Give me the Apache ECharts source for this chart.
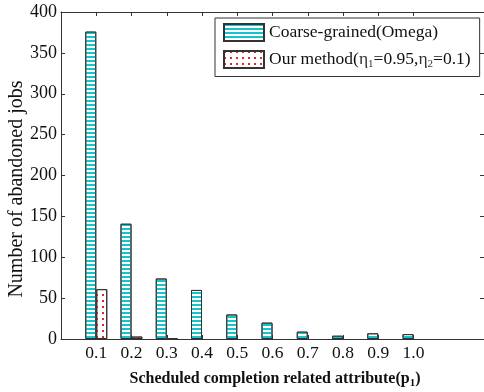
<!DOCTYPE html>
<html>
<head>
<meta charset="utf-8">
<script src="https://cdn.jsdelivr.net/npm/echarts@6/dist/echarts.min.js"></script>
<style>html,body{margin:0;padding:0;background:#fff}#c{width:484px;height:392px}</style>
</head>
<body>
<div id="c"></div>
<script>
var categories = [0.1, 0.2, 0.3, 0.4, 0.5, 0.6, 0.7, 0.8, 0.9, 1.0];
var coarseGrained = [376, 141, 74, 60, 30, 20, 9, 4, 7, 6];
var ourMethod = [61, 3, 1, 0, 0, 0, 0, 0, 0, 0];
var yTicks = [0, 50, 100, 150, 200, 250, 300, 350, 400];
var seriesNames = ['Coarse-grained(Omega)', 'Our method(η1=0.95,η2=0.1)'];

var FONT = '"Liberation Serif", "Times New Roman", serif';
var chart = echarts.init(document.getElementById('c'));
function pairs(vals){ return categories.map(function(c,i){ return [c, vals[i] === 0 ? null : vals[i]]; }); }
var axisLineStyle = {color:'#333', width:1};
chart.setOption({
  animation:false,
  aria:{enabled:true, decal:{show:true}},
  grid:{left:61, right:-1, top:12, bottom:53},
  title:{
    text:'{b|Scheduled completion related attribute(p}{s|1}{b|)}',
    left:270, top:364, textAlign:'center',
    textStyle:{rich:{
      b:{fontFamily:FONT, fontWeight:'bold', fontSize:16, color:'#111'},
      s:{fontFamily:FONT, fontWeight:'bold', fontSize:11, color:'#111', verticalAlign:'bottom', padding:[9,0,0,0]}
    }}
  },
  graphic:[{
    type:'text', x:17, y:189, rotation:Math.PI/2,
    style:{text:'Number of abandoned jobs', font:'20px '+FONT, fill:'#111', align:'center', verticalAlign:'middle'}
  }],
  legend:{
    orient:'vertical', left:215, top:18,
    padding:[5,9,7,8], itemWidth:40, itemHeight:17, itemGap:8,
    borderColor:'#333', borderWidth:1, backgroundColor:'#fff',
    icon:'rect',
    data:seriesNames,
    formatter:function(n){
      if(n===seriesNames[0]) return '{b|'+n+'}';
      return '{b|Our method(}{e|η}{s|1}{b|=0.95,}{e|η}{s|2}{b|=0.1)}';
    },
    textStyle:{rich:{
      b:{fontFamily:FONT, fontSize:17.5, color:'#111'},
      e:{fontFamily:FONT, fontSize:17.5, color:'#333'},
      s:{fontFamily:FONT, fontSize:11, color:'#333', verticalAlign:'bottom', padding:[9,0,0,0]}
    }}
  },
  xAxis:[{
    type:'value', min:0, max:1.2, position:'bottom',
    axisLine:{show:true, onZero:false, lineStyle:axisLineStyle},
    axisTick:{show:true, inside:true, length:4, customValues:categories, lineStyle:axisLineStyle},
    axisLabel:{customValues:categories, formatter:function(v){return v.toFixed(1);}, fontFamily:FONT, fontSize:17.5, color:'#111', margin:5},
    splitLine:{show:false}
  },{
    type:'value', min:0, max:1.2, position:'top',
    axisLine:{show:true, onZero:false, lineStyle:axisLineStyle},
    axisTick:{show:true, inside:true, length:4, customValues:categories, lineStyle:axisLineStyle},
    axisLabel:{show:false}, splitLine:{show:false}
  }],
  yAxis:[{
    type:'value', min:0, max:400, interval:50, position:'left',
    axisLine:{show:true, onZero:false, lineStyle:axisLineStyle},
    axisTick:{show:true, inside:true, length:4, lineStyle:axisLineStyle},
    axisLabel:{customValues:yTicks, fontFamily:FONT, fontSize:18, color:'#111', margin:4},
    splitLine:{show:false}
  },{
    type:'value', min:0, max:400, interval:50, position:'right',
    axisLine:{show:true, onZero:false, lineStyle:axisLineStyle},
    axisTick:{show:true, inside:true, length:4, lineStyle:axisLineStyle},
    axisLabel:{show:false}, splitLine:{show:false}
  }],
  series:[{
    name:seriesNames[0], type:'bar', barWidth:11, barGap:'0%',
    data:pairs(coarseGrained),
    itemStyle:{color:'#ffffff', borderColor:'#333', borderWidth:1,
      decal:{symbol:'rect', color:'#18c4cc', dashArrayX:[1,0], dashArrayY:[2,2], rotation:0}}
  },{
    name:seriesNames[1], type:'bar', barWidth:11, barGap:'0%',
    data:pairs(ourMethod),
    itemStyle:{color:'#ffffff', borderColor:'#333', borderWidth:1,
      decal:{symbol:'rect', color:'#e02828', dashArrayX:[1.5,4], dashArrayY:[1.5,4], rotation:0, symbolSize:1}}
  }]
});
</script>
</body>
</html>
